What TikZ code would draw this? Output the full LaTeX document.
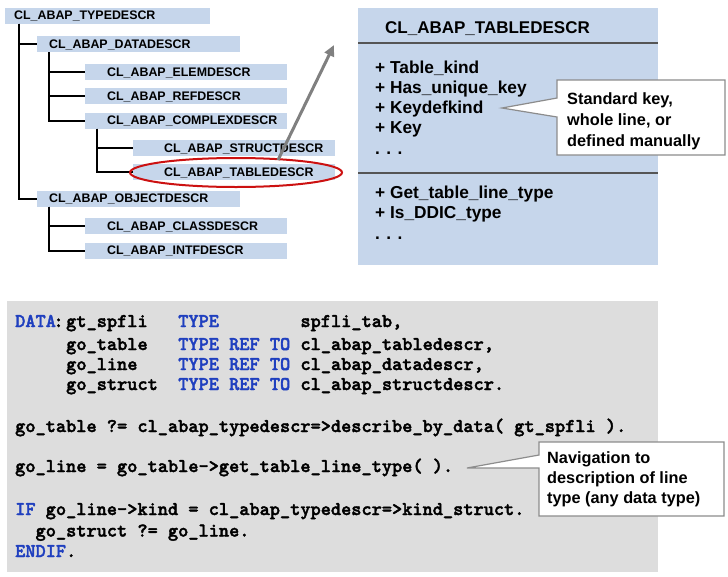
\documentclass[tikz,border=0pt]{standalone}
\usepackage{fontspec}
\setmainfont{Liberation Sans}
\newfontfamily\codefont[FakeBold=2]{lmmonolt10-bold.otf}
\usetikzlibrary{arrows.meta}
\definecolor{boxblue}{HTML}{C6D6EB}
\definecolor{codebg}{HTML}{DDDDDD}
\definecolor{kwblue}{HTML}{1F3FBF}
\definecolor{ellred}{HTML}{CC1111}
\definecolor{arrgray}{HTML}{808080}
\definecolor{calline}{HTML}{8C8C8C}
\definecolor{sepline}{HTML}{555555}
\newcommand{\kwd}[1]{\textcolor{kwblue}{#1}}
\newcommand{\indt}[1]{\hspace*{#1pt}}
\tikzset{
  treebox/.style={fill=boxblue, anchor=west, minimum height=16pt, inner sep=0pt,
    text width=#1pt, align=left, text height=8.9pt, text depth=0pt,
    font=\bfseries\fontsize{12.4}{14}\selectfont},
  treeline/.style={line width=2pt, black},
  clstext/.style={anchor=base west, inner sep=0pt, font=\bfseries\fontsize{17.3}{20}\selectfont},
  caltext/.style={anchor=base west, inner sep=0pt, font=\bfseries\fontsize{16.3}{19}\selectfont},
  codetext/.style={anchor=base west, inner sep=0pt, font=\codefont\fontsize{19.4}{22}\selectfont},
  calloutshape/.style={draw=calline, fill=white, line width=1.2pt},
  sep/.style={draw=sepline, line width=1.5pt}
}
\begin{document}
\begin{tikzpicture}[x=1pt,y=-1pt]
\useasboundingbox (0,0) rectangle (728,576);
\fill[white] (0,0) rectangle (728,576);

% ---------- tree ----------
\node[treebox=205] (typ)    at (5,15.5)  {\indt{9}CL\_ABAP\_TYPEDESCR};
\node[treebox=203] (data)   at (37,44)   {\indt{12}CL\_ABAP\_DATADESCR};
\node[treebox=202] (elem)   at (85,72)   {\indt{22}CL\_ABAP\_ELEMDESCR};
\node[treebox=202] (ref)    at (85,96)   {\indt{22}CL\_ABAP\_REFDESCR};
\node[treebox=202] (cplx)   at (85,120.5){\indt{22}CL\_ABAP\_COMPLEXDESCR};
\node[treebox=202] (struct) at (133,148) {\indt{31}CL\_ABAP\_STRUCTDESCR};
\node[treebox=202] (table)  at (133,172) {\indt{31}CL\_ABAP\_TABLEDESCR};
\node[treebox=203] (obj)    at (37,198.5){\indt{12}CL\_ABAP\_OBJECTDESCR};
\node[treebox=202] (cls)    at (85,226)  {\indt{22}CL\_ABAP\_CLASSDESCR};
\node[treebox=202] (intf)   at (85,250.5){\indt{22}CL\_ABAP\_INTFDESCR};

\draw[treeline] ([xshift=14pt]typ.south west) |- (data.west);
\draw[treeline] ([xshift=14pt]typ.south west) |- (obj.west);
\draw[treeline] ([xshift=12pt]data.south west) |- (elem.west);
\draw[treeline] ([xshift=12pt]data.south west) |- (ref.west);
\draw[treeline] ([xshift=12pt]data.south west) |- (cplx.west);
\draw[treeline] ([xshift=12pt]cplx.south west) |- (struct.west);
\draw[treeline] ([xshift=12pt]cplx.south west) |- (table.west);
\draw[treeline] ([xshift=12pt]obj.south west) |- (cls.west);
\draw[treeline] ([xshift=12pt]obj.south west) |- (intf.west);

\draw[ellred, line width=2pt] (236,172.5) ellipse [x radius=106pt, y radius=14.5pt];

\coordinate (aS) at (278,160);
\coordinate (aE) at (334,45);
\draw[arrgray, line width=3pt, -{Triangle[length=11pt,width=10pt]}] (aS) -- (aE);

% ---------- class box ----------
\node[fill=boxblue, anchor=north west, minimum width=300pt, minimum height=257pt, inner sep=0pt] (clsbox) at (358,8) {};
\draw[sep] (358,43) -- (658,43);
\draw[sep] (358,173) -- (658,173);
\node[clstext, font=\bfseries\fontsize{17}{20}\selectfont] (title) at (385,33) {CL\_ABAP\_TABLEDESCR};
\node[clstext] (at1) at (375,73)  {+ Table\_kind};
\node[clstext] (at2) at (375,93)  {+ Has\_unique\_key};
\node[clstext] (at3) at (375,113) {+ Keydefkind};
\node[clstext] (at4) at (375,133) {+ Key};
\node[clstext] (at5) at (375,154) {. . .};
\node[clstext] (me1) at (375,198) {+ Get\_table\_line\_type};
\node[clstext] (me2) at (375,218) {+ Is\_DDIC\_type};
\node[clstext] (me3) at (375,239) {. . .};

% callout 1
\draw[calloutshape] (557,80) -- (725,80) -- (725,155) -- (557,155) -- (557,117) -- (502,108) -- (557,98) -- cycle;
\node[caltext] (c1a) at (567,104) {Standard key,};
\node[caltext] (c1b) at (567,125) {whole line, or};
\node[caltext] (c1c) at (567,146) {defined manually};

% ---------- code box ----------
\node[fill=codebg, anchor=north west, minimum width=651pt, minimum height=271pt, inner sep=0pt] (code) at (7,301) {};
\node[codetext] (l1a) at (15,327) {\kwd{DATA}\kern-2.5pt:};
\node[codetext] (l1)  at (66,327) {gt\_spfli~~~\kwd{TYPE}~~~~~~~~spfli\_tab,};
\node[codetext] (l2)  at (66,350) {go\_table~~~\kwd{TYPE~REF~TO}~cl\_abap\_tabledescr,};
\node[codetext] (l3)  at (66,370) {go\_line~~~~\kwd{TYPE~REF~TO}~cl\_abap\_datadescr,};
\node[codetext] (l4)  at (66,390) {go\_struct~~\kwd{TYPE~REF~TO}~cl\_abap\_structdescr.};
\node[codetext] (l5)  at (15,432) {go\_table~?=~cl\_abap\_typedescr=>describe\_by\_data(~gt\_spfli~).};
\node[codetext] (l6)  at (15,472) {go\_line~=~go\_table->get\_table\_line\_type(~).};
\node[codetext] (l7)  at (15,515) {\kwd{IF}~go\_line->kind~=~cl\_abap\_typedescr=>kind\_struct.};
\node[codetext] (l8)  at (35.4,536.5) {go\_struct~?=~go\_line.};
\node[codetext] (l9)  at (15,557) {\kwd{ENDIF}.};

% callout 2
\draw[calloutshape] (539,442) -- (724,442) -- (724,516) -- (539,516) -- (539,468) -- (467,468) -- (539,455) -- cycle;
\node[caltext] (c2a) at (547,463) {Navigation to};
\node[caltext] (c2b) at (547,483) {description of line};
\node[caltext] (c2c) at (547,503) {type (any data type)};
\end{tikzpicture}
\end{document}
